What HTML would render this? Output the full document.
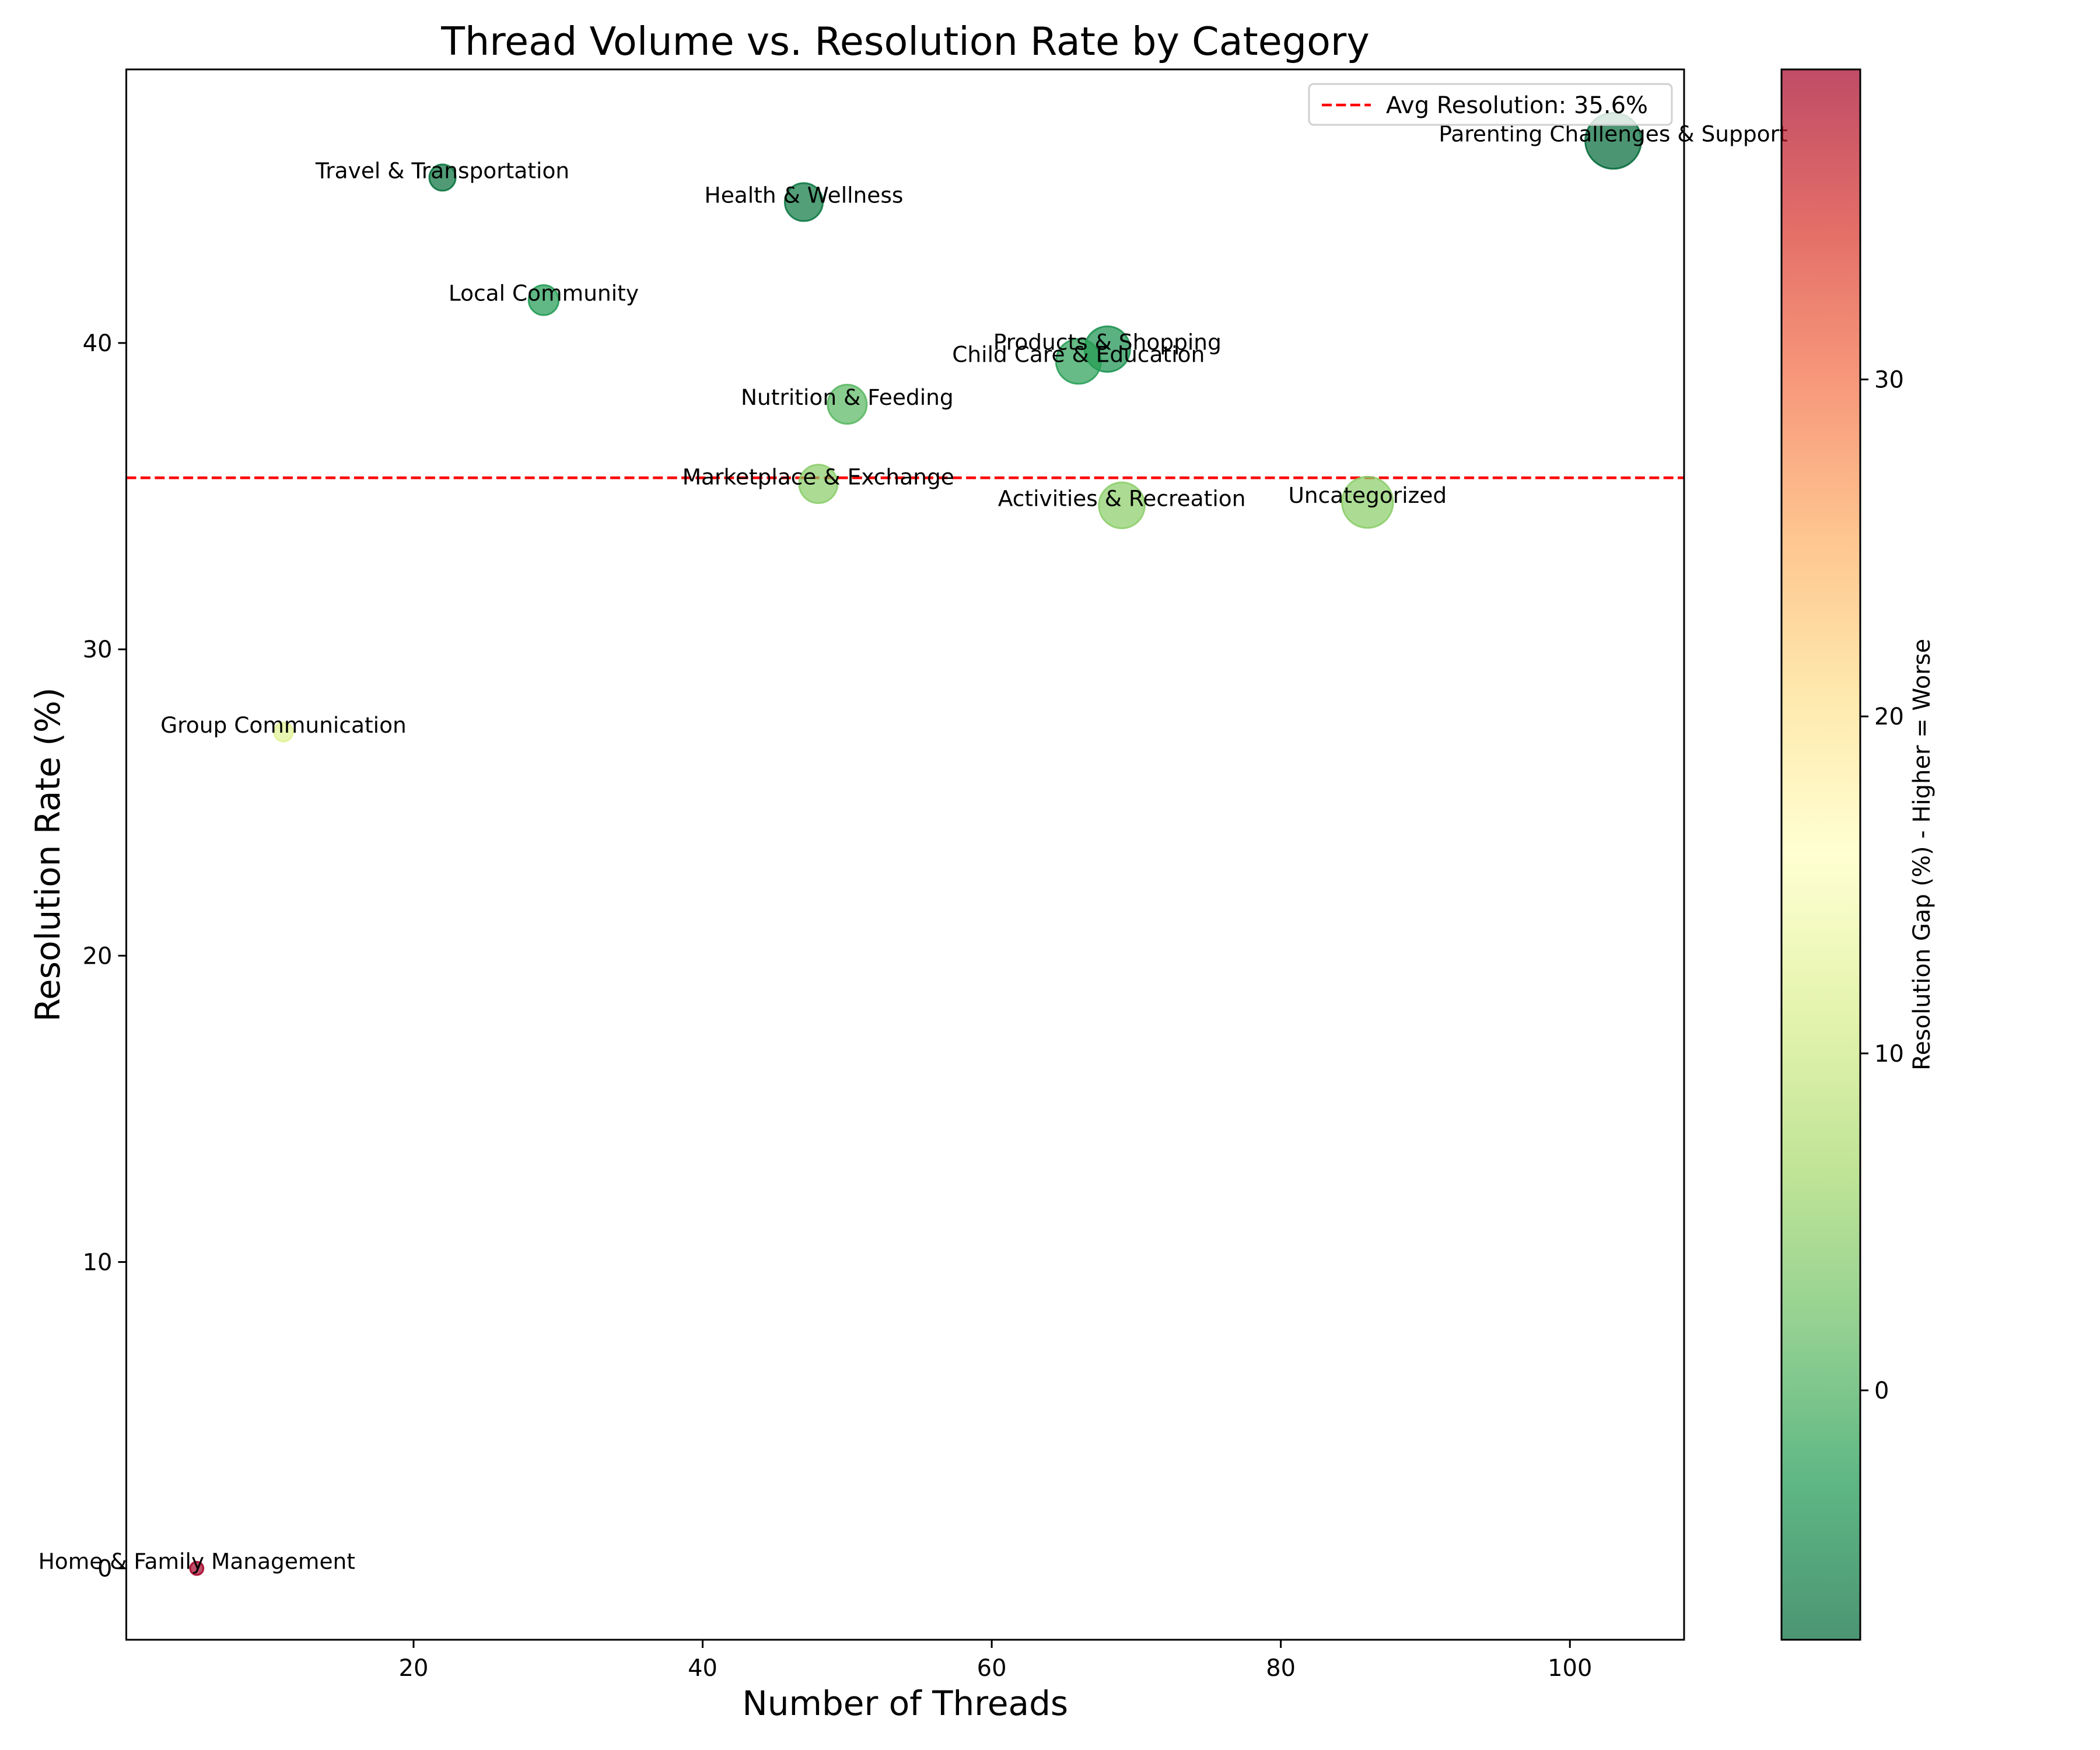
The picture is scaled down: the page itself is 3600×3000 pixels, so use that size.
<!DOCTYPE html>
<html><head><meta charset="utf-8"><style>
html,body{margin:0;padding:0;background:#fff}
svg{display:block}
text{font-family:"DejaVu Sans","Liberation Sans",sans-serif;fill:#000}
</style></head><body>
<svg id="chart" width="3600" height="3000" viewBox="0 0 3600 3000" xmlns="http://www.w3.org/2000/svg">
<defs><linearGradient id="cbgrad" x1="0" y1="1" x2="0" y2="0"></linearGradient></defs>
<rect width="3600" height="3000" fill="#fff"/>
<text x="1552" y="94" font-size="66.7" text-anchor="middle">Thread Volume vs. Resolution Rate by Category</text>
<g id="plot"></g>
</svg>
<script>
const categories = ["Parenting Challenges & Support","Travel & Transportation","Health & Wellness","Local Community","Products & Shopping","Child Care & Education","Nutrition & Feeding","Marketplace & Exchange","Activities & Recreation","Uncategorized","Group Communication","Home & Family Management"];
const threads = [103,22,47,29,68,66,50,48,69,86,11,5];
const resolution = [46.6,45.4,44.6,41.4,39.8,39.4,38.0,35.4,34.7,34.8,27.3,0.0];
const gaps = [-7.4,-6.5,-6.0,-2.5,-3.5,-2.0,1.0,4.5,4.5,4.5,12.0,39.2];
const avgResolution = 35.6;
const xTicks = [20,40,60,80,100];
const yTicks = [0,10,20,30,40];
const cbTicks = [0,10,20,30];

const NS="http://www.w3.org/2000/svg";
const L=216.5,R=2887,T=119,B=2811;
const xMin=0.125,xMax=107.9,yMin=-2.33,yMax=48.93;
const X=v=>L+(v-xMin)/(xMax-xMin)*(R-L);
const Y=v=>B-(v-yMin)/(yMax-yMin)*(B-T);
const cbL=3054,cbR=3189,cMin=-7.4,cMax=39.2;
const CY=v=>B-(v-cMin)/(cMax-cMin)*(B-T);
const stops=["#006837","#1a9850","#66bd63","#a6d96a","#d9ef8b","#ffffbf","#fee08b","#fdae61","#f46d43","#d73027","#a50026"];
function hex(h){return [1,3,5].map(i=>parseInt(h.substr(i,2),16));}
function cmap(t){t=Math.max(0,Math.min(1,t));const p=t*10,i=Math.min(9,Math.floor(p)),f=p-i;const a=hex(stops[i]),b=hex(stops[i+1]);return "rgb("+a.map((v,k)=>Math.round(v+(b[k]-v)*f)).join(",")+")";}
function el(tag,attrs,parent){const e=document.createElementNS(NS,tag);for(const k in attrs)e.setAttribute(k,attrs[k]);(parent||g).appendChild(e);return e;}
const g=document.getElementById("plot");

const avg=el("line",{x1:L,x2:R,y1:Y(avgResolution),y2:Y(avgResolution),stroke:"#ff0000","stroke-width":4.6,"stroke-dasharray":"17 7.4"});



categories.forEach((c,i)=>{
  const col=cmap((gaps[i]-cMin)/(cMax-cMin));
  const r=Math.sqrt(22.1*threads[i]+20);
  const b=el("circle",{cx:X(threads[i]),cy:Y(resolution[i]),r:r,fill:col,"fill-opacity":0.7,stroke:col,"stroke-opacity":0.85,"stroke-width":3});
  
  
});
categories.forEach((c,i)=>{
  const t=el("text",{x:X(threads[i]),y:Y(resolution[i])-12,"font-size":37.5,"text-anchor":"middle","dominant-baseline":"central"});
  t.textContent=c;
  
  
});

const fr=el("rect",{x:L,y:T,width:R-L,height:B-T,fill:"none",stroke:"#000","stroke-width":3});


xTicks.forEach(v=>{
  el("line",{x1:X(v),x2:X(v),y1:B,y2:B+14,stroke:"#000","stroke-width":3});
  const t=el("text",{x:X(v),y:B+62,"font-size":40,"text-anchor":"middle"});t.textContent=v;
  
  
});
yTicks.forEach(v=>{
  el("line",{x1:L-14,x2:L,y1:Y(v),y2:Y(v),stroke:"#000","stroke-width":3});
  const t=el("text",{x:L-24,y:Y(v)+14,"font-size":40,"text-anchor":"end"});t.textContent=v;
  
  
});
const xt=el("text",{x:(L+R)/2,y:2940,"font-size":58,"text-anchor":"middle"});xt.textContent="Number of Threads";


const yt=el("text",{x:0,y:0,"font-size":58,"text-anchor":"middle",transform:"translate(102,"+((T+B)/2)+") rotate(-90)"});yt.textContent="Resolution Rate (%)";



const lg=el("g",{});


el("rect",{x:2244,y:144,width:622,height:70,rx:8,fill:"#fff","fill-opacity":0.8,stroke:"#d0d0d0","stroke-width":3},lg);
el("line",{x1:2266,x2:2350,y1:180,y2:180,stroke:"#ff0000","stroke-width":4.6,"stroke-dasharray":"17 7.4"},lg);
const lt=el("text",{x:2376,y:194,"font-size":40},lg);lt.textContent="Avg Resolution: 35.6%";



const grad=document.getElementById("cbgrad");
for(let k=0;k<=20;k++){const s=document.createElementNS(NS,"stop");s.setAttribute("offset",k/20);s.setAttribute("stop-color",cmap(k/20));grad.appendChild(s);}
const cb=el("rect",{x:cbL,y:T,width:cbR-cbL,height:B-T,fill:"url(#cbgrad)","fill-opacity":0.7,stroke:"#000","stroke-width":3});


cbTicks.forEach(v=>{
  el("line",{x1:cbR,x2:cbR+14,y1:CY(v),y2:CY(v),stroke:"#000","stroke-width":3});
  const t=el("text",{x:cbR+24,y:CY(v)+14,"font-size":40});t.textContent=v;
  
  
});
const ct=el("text",{x:0,y:0,"font-size":40,"text-anchor":"middle",transform:"translate(3308,"+((T+B)/2)+") rotate(-90)"});ct.textContent="Resolution Gap (%) - Higher = Worse";


</script>
</body></html>
